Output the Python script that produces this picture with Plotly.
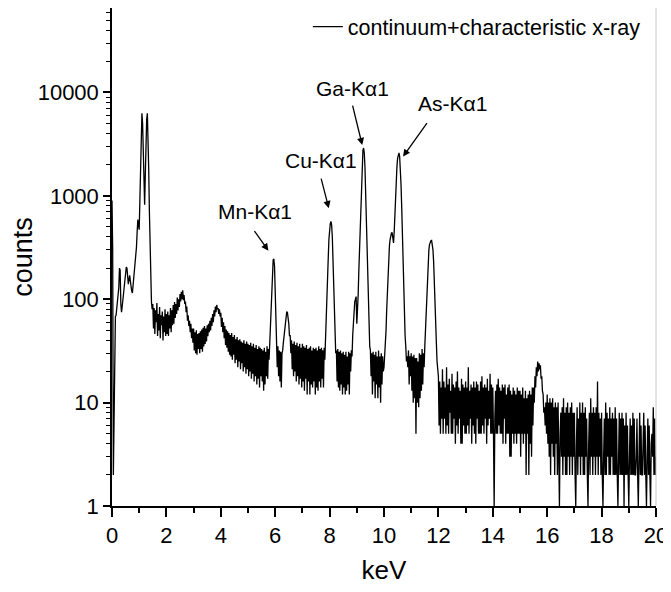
import math
import plotly.graph_objects as go

# ---------------- data (0.025 keV channels) ----------------
step_keV = 0.025
counts = [
    # 0.0 - 0.475
    900, 300, 2, 9, 40, 68, 70, 85, 95, 115, 130, 200, 190, 90, 75, 85, 100, 120, 150, 170,
    # 0.5 - 0.975
    190, 205, 200, 160, 140, 155, 170, 150, 130, 120, 115, 135, 165, 180, 200, 250, 320, 450, 590, 520,
    # 1.0 - 1.475
    470, 900, 2000, 4200, 6300, 5000, 3000, 1500, 820, 1600, 3500, 5500, 6300, 4000, 1800, 700, 250, 130, 95, 80,
    # 1.5 - 1.975
    90, 52, 82, 46, 78, 60, 92, 44, 72, 50, 84, 42, 70, 56, 76, 40, 68, 48, 80, 44,
    # 2.0 - 2.475
    72, 46, 76, 44, 70, 52, 82, 48, 78, 56, 88, 58, 94, 66, 90, 72, 104, 78, 100, 84,
    # 2.5 - 2.975
    112, 95, 118, 100, 122, 98, 110, 90, 95, 75, 85, 62, 70, 55, 62, 48, 58, 42, 52, 38,
    # 3.0 - 3.475
    52, 32, 48, 30, 50, 29, 46, 33, 47, 30, 49, 33, 51, 31, 53, 35, 55, 37, 52, 39,
    # 3.5 - 3.975
    56, 44, 58, 48, 62, 50, 66, 55, 72, 60, 78, 68, 85, 75, 88, 80, 82, 72, 80, 68,
    # 4.0 - 4.475
    74, 54, 66, 48, 60, 42, 55, 36, 51, 34, 49, 31, 47, 29, 45, 28, 47, 26, 43, 29,
    # 4.5 - 4.975
    45, 24, 41, 26, 43, 22, 40, 25, 41, 21, 39, 24, 38, 20, 40, 22, 37, 19, 39, 21,
    # 5.0 - 5.475
    37, 18, 36, 20, 38, 17, 35, 19, 37, 16, 34, 18, 36, 15, 33, 17, 35, 14, 34, 18,
    # 5.5 - 5.975
    33, 16, 32, 13, 34, 15, 31, 18, 35, 17, 33, 26, 40, 50, 80, 120, 200, 240, 245, 210,
    # 6.0 - 6.475
    120, 70, 38, 22, 35, 18, 32, 16, 31, 14, 30, 32, 38, 45, 55, 65, 72, 76, 74, 66,
    # 6.5 - 6.975
    58, 44, 45, 30, 40, 21, 37, 18, 39, 20, 36, 16, 38, 18, 35, 15, 37, 17, 34, 14,
    # 7.0 - 7.475
    37, 16, 35, 13, 34, 17, 36, 12, 33, 16, 34, 12, 35, 15, 32, 14, 34, 16, 33, 12,
    # 7.5 - 7.975
    34, 14, 32, 13, 35, 16, 33, 14, 34, 17, 32, 14, 34, 26, 45, 70, 110, 170, 250, 380,
    # 8.0 - 8.475
    480, 540, 565, 520, 400, 260, 130, 70, 45, 30, 32, 16, 33, 14, 31, 13, 32, 15, 30, 12,
    # 8.5 - 8.975
    31, 14, 29, 12, 31, 13, 28, 15, 31, 12, 30, 20, 32, 28, 45, 60, 80, 95, 100, 106,
    # 9.0 - 9.475
    58, 75, 110, 190, 320, 550, 950, 1500, 2300, 2750, 2900, 2600, 1900, 1100, 550, 280, 130, 70, 45, 35,
    # 9.5 - 9.975
    32, 18, 30, 12, 31, 16, 29, 11, 31, 15, 28, 11, 32, 14, 28, 10, 30, 15, 28, 20,
    # 10.0 - 10.475
    22, 28, 35, 50, 80, 130, 200, 270, 330, 380, 420, 437, 437, 380, 350, 450, 700, 1000, 1400, 1900,
    # 10.5 - 10.975
    2300, 2500, 2600, 2400, 1900, 1300, 800, 420, 200, 110, 65, 45, 35, 25, 28, 22, 32, 15, 28, 18,
    # 11.0 - 11.475
    30, 13, 28, 10, 29, 11, 27, 5, 27, 10, 25, 9, 30, 11, 29, 13, 33, 15, 30, 22,
    # 11.5 - 11.975
    35, 50, 80, 120, 180, 240, 300, 340, 360, 368, 370, 345, 300, 230, 160, 100, 60, 38, 25, 18,
    # 12.0 - 12.475
    18, 6, 16, 5, 14, 7, 21, 5, 16, 7, 14, 5, 22, 6, 15, 5, 17, 8, 13, 5,
    # 12.5 - 12.975
    19, 5, 15, 7, 14, 4, 16, 6, 20, 5, 14, 7, 13, 4, 17, 4, 15, 6, 14, 5,
    # 13.0 - 13.475
    16, 5, 14, 6, 22, 5, 13, 7, 15, 4, 14, 6, 16, 5, 14, 4, 16, 7, 15, 5,
    # 13.5 - 13.975
    13, 5, 16, 5, 18, 6, 14, 5, 15, 7, 14, 4, 17, 6, 13, 7, 19, 5, 15, 5,
    # 14.0 - 14.475
    14, 5, 1, 7, 13, 5, 15, 5, 17, 6, 14, 5, 13, 5, 15, 4, 14, 7, 15, 4,
    # 14.5 - 14.975
    12, 5, 14, 5, 15, 3, 13, 3, 12, 5, 14, 4, 13, 5, 12, 4, 14, 5, 13, 5,
    # 15.0 - 15.475
    13, 3, 12, 5, 14, 4, 11, 5, 13, 2, 11, 5, 12, 2, 13, 4, 12, 3, 14, 6,
    # 15.5 - 15.975
    14, 10, 18, 14, 22, 18, 25, 20, 24, 21, 23, 17, 18, 13, 12, 8, 9, 6, 10, 5,
    # 16.0 - 16.475
    12, 4, 10, 3, 11, 2, 10, 4, 11, 3, 9, 2, 10, 4, 9, 2, 10, 3, 1, 5,
    # 16.5 - 16.975
    8, 3, 9, 2, 11, 3, 8, 2, 9, 2, 10, 3, 8, 2, 9, 3, 10, 2, 8, 3,
    # 17.0 - 17.475
    8, 2, 1, 4, 9, 2, 7, 3, 10, 2, 8, 3, 10, 2, 8, 2, 9, 3, 7, 2,
    # 17.5 - 17.975
    1, 4, 8, 2, 11, 3, 8, 2, 9, 3, 8, 2, 9, 3, 16, 2, 8, 3, 7, 2,
    # 18.0 - 18.475
    8, 2, 1, 3, 7, 2, 10, 2, 8, 3, 7, 2, 9, 2, 7, 3, 8, 2, 7, 2,
    # 18.5 - 18.975
    9, 2, 7, 2, 1, 3, 8, 2, 7, 2, 8, 2, 7, 1, 6, 2, 8, 2, 6, 2,
    # 19.0 - 19.475
    1, 3, 7, 2, 6, 2, 8, 2, 7, 2, 2, 3, 7, 2, 1, 3, 8, 2, 6, 2,
    # 19.5 - 19.975
    2, 4, 8, 2, 6, 2, 1, 3, 7, 2, 6, 2, 1, 4, 5, 3, 9, 2, 7, 2,
    # 20.0
    3,
]
assert len(counts) == 801, len(counts)
energy_keV = [round(i * step_keV, 3) for i in range(len(counts))]

series_name = "continuum+characteristic x-ray"
x_tick_values = [0, 2, 4, 6, 8, 10, 12, 14, 16, 18, 20]
y_tick_values = [1, 10, 100, 1000, 10000]
y_tick_labels = ["1", "10", "100", "1000", "10000"]

peak_labels = ["Mn-K\u03b11", "Cu-K\u03b11", "Ga-K\u03b11", "As-K\u03b11"]
peak_energy_keV = [5.75, 7.97, 9.20, 10.70]   # arrow tips
peak_tip_counts = [295, 760, 3100, 2400]

# ---------------- layout / style ----------------
label_pos = [(5.26, 713), (7.70, 2183), (8.84, 10840), (12.52, 7760)]
arrow_offsets = [(-15, -21), (-8, -31), (-10, -41), (25, -35)]
y_minor_ticks = [m * 10 ** k for k in range(0, 5) for m in range(2, 10)]

FONT = "Liberation Sans, Arial, sans-serif"

fig = go.Figure()
fig.add_trace(go.Scatter(
    x=energy_keV, y=counts, mode="lines", name=series_name,
    line=dict(color="black", width=1.3),
))

annotations = []
for lab, (tx, ty) in zip(peak_labels, label_pos):
    annotations.append(dict(
        x=tx, y=math.log10(ty), xref="x", yref="y", text=lab, showarrow=False,
        xanchor="center", yanchor="middle",
        font=dict(family=FONT, size=21, color="black"),
    ))
for ex, ey, (ax, ay) in zip(peak_energy_keV, peak_tip_counts, arrow_offsets):
    annotations.append(dict(
        x=ex, y=math.log10(ey), xref="x", yref="y", text="", showarrow=True,
        ax=ax, ay=ay, arrowhead=2, arrowsize=1.1, arrowwidth=1.3, arrowcolor="black",
        standoff=0, startstandoff=0,
    ))

# the page body adds an 8 px offset, so the figure is drawn 8 px smaller
fig.update_layout(
    width=663, height=584,
    margin=dict(l=104, r=15, t=0, b=86, autoexpand=False),
    paper_bgcolor="white", plot_bgcolor="white",
    showlegend=True,
    legend=dict(
        x=0.36, y=0.9624, xanchor="left", yanchor="middle",
        bgcolor="rgba(0,0,0,0)", borderwidth=0,
        font=dict(family=FONT, size=21.5, color="black"),
    ),
    annotations=annotations,
    shapes=[dict(type="line", xref="paper", yref="paper", x0=1, x1=1, y0=0, y1=1,
                 line=dict(color="#c8c8c8", width=1))],
)
fig.update_xaxes(
    range=[0, 20], tickvals=x_tick_values, ticks="outside", ticklen=9, tickwidth=1.5,
    tickcolor="black", showline=True, linecolor="black", linewidth=1.5, mirror=True,
    showgrid=False, zeroline=False, automargin=False,
    minor=dict(dtick=1, ticks="outside", ticklen=5, tickwidth=1.5, tickcolor="black"),
    tickfont=dict(family=FONT, size=22, color="black"),
    title=dict(text="keV", font=dict(family=FONT, size=26, color="black"), standoff=14),
)
fig.update_yaxes(
    type="log", range=[0, 4.817], tickvals=y_tick_values, ticktext=y_tick_labels,
    ticks="outside", ticklen=7, tickwidth=1.5, tickcolor="black",
    showline=True, linecolor="black", linewidth=1.5, mirror=False,
    showgrid=False, zeroline=False, automargin=False,
    minor=dict(tickvals=y_minor_ticks, ticks="outside", ticklen=4, tickwidth=1,
               tickcolor="black", showgrid=False),
    tickfont=dict(family=FONT, size=22, color="black"),
    title=dict(text="counts", font=dict(family=FONT, size=27, color="black"), standoff=0),
)

fig.write_html("out.html")
